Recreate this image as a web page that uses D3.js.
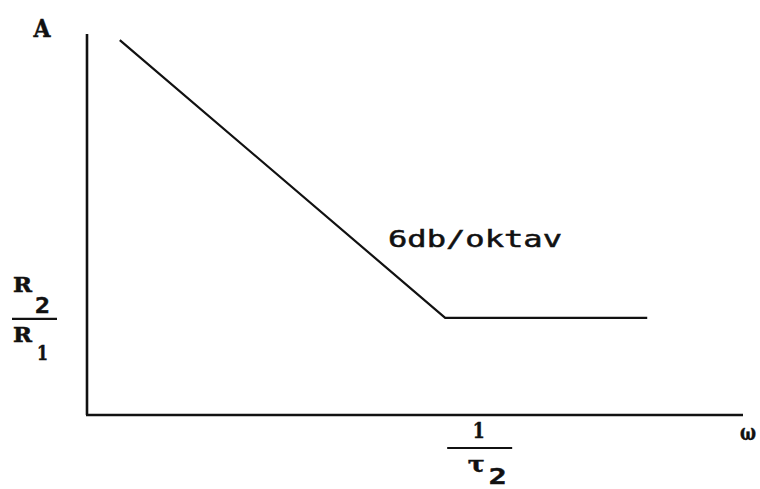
<!DOCTYPE html>
<html>
<head>
<meta charset="utf-8">
<script src="https://cdn.jsdelivr.net/npm/d3@7"></script>
<style>
  html, body { margin: 0; padding: 0; background: #fff; }
  svg { display: block; }
  text { fill: #111; stroke: #111; stroke-width: 0.5px; }
  .serif { font-family: "DejaVu Serif", "Liberation Serif", serif; font-weight: bold; }
  .mono { font-family: "DejaVu Sans Mono", "Liberation Mono", monospace; }
</style>
</head>
<body>
<svg id="chart" width="760" height="489"></svg>
<script>
// Asymptotic amplitude response: falling slope, then flat above the corner frequency
const omega = [0.5, 5.46, 8.54];
const amplitude = [9.84, 2.55, 2.55];
const cornerOmega = 5.46;   // 1/τ2
const plateauA = 2.55;      // R2/R1
const slopeLabel = "6db/oktav";

const svg = d3.select("#chart");

const x = d3.scaleLinear().domain([0, 10]).range([87, 743]);
const y = d3.scaleLinear().domain([0, 10]).range([415, 34]);

// axes (plain lines, no ticks)
svg.append("line")
  .attr("x1", x(0)).attr("y1", y(0))
  .attr("x2", x(0)).attr("y2", y(10))
  .attr("stroke", "#111").attr("stroke-width", 2.6);
svg.append("line")
  .attr("x1", x(0) - 1).attr("y1", y(0))
  .attr("x2", x(10)).attr("y2", y(0))
  .attr("stroke", "#111").attr("stroke-width", 2.6);

// response curve
const pts = omega.map((w, i) => [w, amplitude[i]]);
svg.append("path")
  .datum(pts)
  .attr("d", d3.line().x(d => x(d[0])).y(d => y(d[1])))
  .attr("fill", "none")
  .attr("stroke", "#111")
  .attr("stroke-width", 2.2);

// helper: a glyph stretched to a given width, centred at cx
function glyph(parent, cls, str, cx, base, size, w) {
  return parent.append("text")
    .attr("class", cls)
    .attr("x", cx - w / 2).attr("y", base)
    .attr("font-size", size)
    .attr("textLength", w).attr("lengthAdjust", "spacingAndGlyphs")
    .text(str);
}

// axis names
glyph(svg, "serif", "A", 42, 37, 25, 17);
glyph(svg, "serif", "ω", 748, 440, 22, 16);

// R2/R1 fraction at the plateau level
const fy = svg.append("g").attr("transform", `translate(0,${y(plateauA)})`);
glyph(fy, "serif", "R", 22.5, -26, 20, 19);
glyph(fy, "mono", "2", 42.5, -5, 21, 15).attr("font-weight", "bold");
fy.append("line").attr("x1", 12).attr("x2", 57).attr("y1", 1).attr("y2", 1)
  .attr("stroke", "#111").attr("stroke-width", 2.2);
glyph(fy, "serif", "R", 22.5, 24, 20, 19);
glyph(fy, "serif", "1", 42.5, 42, 20, 11);

// 1/τ2 fraction under the corner frequency
const fx = svg.append("g").attr("transform", `translate(${x(cornerOmega)},0)`);
glyph(fx, "serif", "1", 33.5, 438, 22, 12);
fx.append("line").attr("x1", 2).attr("x2", 67).attr("y1", 448).attr("y2", 448)
  .attr("stroke", "#111").attr("stroke-width", 2.2);
glyph(fx, "serif", "τ", 31, 472, 22, 17);
glyph(fx, "mono", "2", 52.5, 484, 21, 18).attr("font-weight", "bold");

// slope annotation
svg.append("text").attr("class", "mono")
  .attr("x", 388).attr("y", 247)
  .attr("font-size", 23)
  .attr("stroke-width", 0.6)
  .attr("textLength", 174).attr("lengthAdjust", "spacingAndGlyphs")
  .text(slopeLabel);
</script>
</body>
</html>
